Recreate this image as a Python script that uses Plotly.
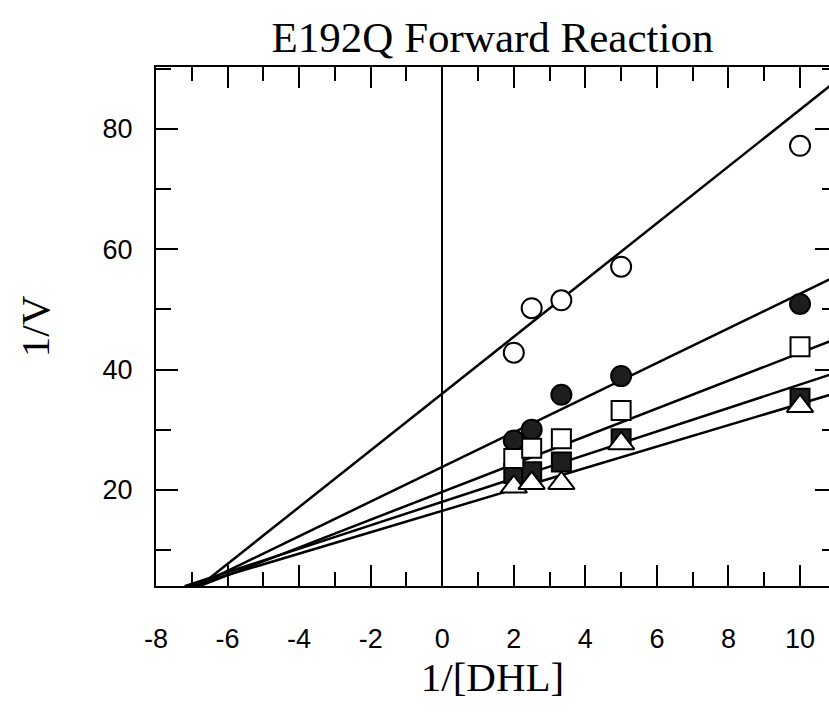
import plotly.graph_objects as go

# 1/[DHL] values of the measured points
x_vals = [2, 2.5, 3.33, 5, 10]
# 1/V values, one list per series
open_circle = [42.8, 50.2, 51.5, 57.1, 77.2]
filled_circle = [28.2, 30.0, 35.8, 38.9, 50.9]
open_square = [25.2, 26.9, 28.5, 33.2, 43.8]
filled_square = [22.7, 23.0, 24.6, 28.5, 35.2]
open_triangle = [20.5, 21.1, 21.1, 27.7, 33.9]
# fitted lines (intercept, slope), in the same series order
fit_intercepts = [36.0, 23.8, 19.65, 18.0, 16.5]
fit_slopes = [4.72, 2.88, 2.31, 1.95, 1.78]
fit_x = [-7.2, 11.0]

# tick labels (plain hyphen minus, as in the original)
x_tick_vals = [-8, -6, -4, -2, 0, 2, 4, 6, 8, 10]
x_tick_text = ["-8", "-6", "-4", "-2", "0", "2", "4", "6", "8", "10"]
y_tick_vals = [20, 40, 60, 80]
y_tick_text = ["20", "40", "60", "80"]

x_range = [-8, 10.81]
y_range = [4, 90.3]

DARK = "#1e1e1e"
fig = go.Figure()

for a, b in zip(fit_intercepts, fit_slopes):
    fig.add_trace(go.Scatter(x=fit_x, y=[a + b * xx for xx in fit_x], mode="lines",
                             line=dict(color="black", width=2.5), showlegend=False,
                             hoverinfo="skip"))

series = [
    (open_circle, "circle", "white", 20),
    (filled_circle, "circle", DARK, 20),
    (filled_square, "square", DARK, 19),
    (open_square, "square", "white", 19),
    (open_triangle, "triangle-up", "white", 23),
]
for ys, sym, fill, size in series:
    fig.add_trace(go.Scatter(x=x_vals, y=ys, mode="markers",
                             marker=dict(symbol=sym, size=size, color=fill,
                                         line=dict(color="black", width=2)),
                             showlegend=False, cliponaxis=False))

# helper trace for the right-hand mirrored ticks
fig.add_trace(go.Scatter(x=[None], y=[None], yaxis="y2", showlegend=False))

tick_font = dict(family="Liberation Sans, Arial, sans-serif", size=27, color="black")
serif = "Liberation Serif, Times New Roman, serif"

fig.update_layout(
    width=829, height=717,
    margin=dict(l=156, r=0, t=67, b=131),
    paper_bgcolor="white", plot_bgcolor="white",
    title=dict(text="E192Q Forward Reaction", x=(156 + 829) / 2 / 829, xanchor="center",
               y=1 - 37 / 717, yanchor="middle", yref="container",
               font=dict(family=serif, size=43, color="black")),
    xaxis=dict(range=x_range, tickmode="array", tickvals=x_tick_vals, ticktext=x_tick_text,
               ticks="inside", ticklen=21, tickwidth=2,
               tickcolor="black", showline=True, linecolor="black", linewidth=2,
               mirror="ticks", showgrid=False, zeroline=True, zerolinecolor="black",
               zerolinewidth=2, tickfont=tick_font, ticklabelstandoff=28,
               minor=dict(dtick=1, ticks="inside", ticklen=14, tickwidth=2, tickcolor="black"),
               title=dict(text="1/[DHL]", font=dict(family=serif, size=41, color="black"),
                          standoff=8)),
    yaxis=dict(range=y_range, tickmode="array", tickvals=y_tick_vals, ticktext=y_tick_text,
               ticks="inside", ticklen=22, tickwidth=2,
               tickcolor="black", showline=True, linecolor="black", linewidth=2,
               mirror=False, showgrid=False, zeroline=False, tickfont=tick_font,
               ticklabelstandoff=16,
               minor=dict(dtick=10, tick0=0, ticks="inside", ticklen=15, tickwidth=2,
                          tickcolor="black"),
               title=dict(text="1/V", font=dict(family=serif, size=41, color="black"),
                          standoff=40)),
    yaxis2=dict(range=y_range, overlaying="y", side="right", dtick=20, tick0=0,
                ticks="inside", ticklen=14, tickwidth=2, tickcolor="black",
                showticklabels=False, showline=False, showgrid=False, zeroline=False,
                minor=dict(dtick=10, ticks="inside", ticklen=7, tickwidth=2, tickcolor="black")),
)

fig.write_html("out.html")
